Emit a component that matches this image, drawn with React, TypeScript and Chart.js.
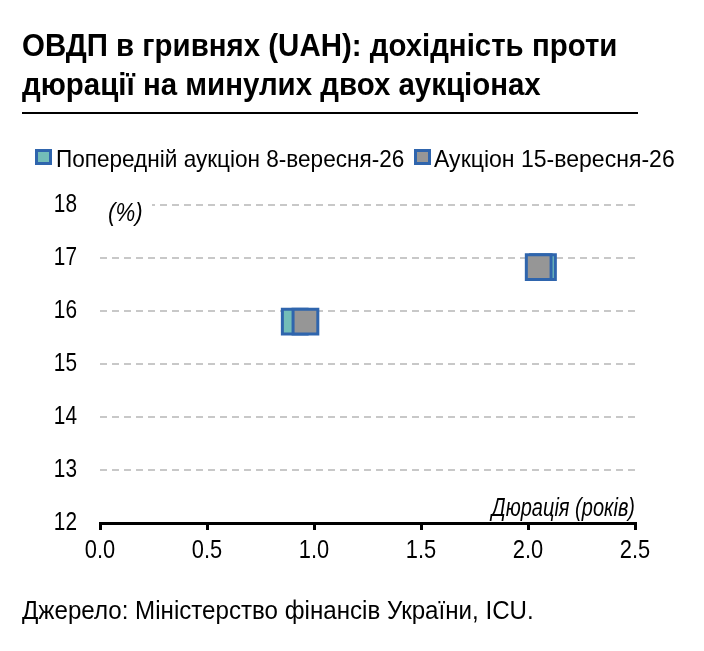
import React, { useEffect, useRef } from "react";
import { Chart, registerables } from "chart.js";

Chart.register(...registerables);

const titleLines = ["ОВДП в гривнях (UAH): дохідність проти", "дюрації на минулих двох аукціонах"];
const seriesNames = ["Попередній аукціон 8-вересня-26", "Аукціон 15-вересня-26"];
const prevDuration = [0.91, 2.07];
const prevYield = [15.8, 16.83];
const currDuration = [0.96, 2.05];
const currYield = [15.8, 16.83];
const yTicks = [12, 13, 14, 15, 16, 17, 18];
const xTicks = [0.0, 0.5, 1.0, 1.5, 2.0, 2.5];
const yUnitLabel = "(%)";
const xAxisLabel = "Дюрація (років)";
const sourceText = "Джерело: Міністерство фінансів України, ICU.";

const FONT = "'Liberation Sans', Arial, sans-serif";
const TEAL = "#73bdb8";
const GRAY = "#969696";
const BLUE = "#2f65ad";

function narrowText(ctx: CanvasRenderingContext2D, text: string, x: number, y: number, align: CanvasTextAlign, sx: number) {
  ctx.save();
  ctx.translate(x, y);
  ctx.scale(sx, 1);
  ctx.textAlign = align;
  ctx.fillText(text, 0, 0);
  ctx.restore();
}

const labelsPlugin = {
  id: "axisLabels",
  beforeDatasetsDraw(chart: any) {
    const { ctx, chartArea } = chart;
    const ys = chart.scales.y;
    const xs = chart.scales.x;
    ctx.save();
    const yTop = ys.getPixelForValue(yTicks[yTicks.length - 1]);
    ctx.fillStyle = "#ffffff";
    ctx.fillRect(chartArea.left - 2, yTop - 4, 54, 8);
    ctx.fillStyle = "#000000";
    ctx.font = `italic 25px ${FONT}`;
    ctx.textBaseline = "middle";
    narrowText(ctx, yUnitLabel, chartArea.left + 8, yTop + 9, "left", 0.89);
    ctx.textBaseline = "alphabetic";
    narrowText(ctx, xAxisLabel, chartArea.right, chartArea.bottom - 7, "right", 0.8);

    ctx.font = `26px ${FONT}`;
    ctx.textBaseline = "middle";
    ys.ticks.forEach((t: any) => {
      narrowText(ctx, String(t.value), chartArea.left - 23, ys.getPixelForValue(t.value), "right", 0.8);
    });
    xs.ticks.forEach((t: any) => {
      narrowText(ctx, Number(t.value).toFixed(1), xs.getPixelForValue(t.value), chartArea.bottom + 28, "center", 0.84);
    });
    ctx.restore();
  },
};

function ChartCanvas() {
  const ref = useRef<HTMLCanvasElement | null>(null);
  useEffect(() => {
    if (!ref.current) return;
    const chart = new Chart(ref.current, {
      type: "scatter",
      data: {
        datasets: [
          {
            label: seriesNames[0],
            data: prevDuration.map((x, i) => ({ x, y: prevYield[i] })),
            backgroundColor: TEAL,
            borderColor: BLUE,
            borderWidth: 3,
            pointStyle: "rect",
            pointRadius: 17.5,
            pointHoverRadius: 17.5,
            order: 1,
          },
          {
            label: seriesNames[1],
            data: currDuration.map((x, i) => ({ x, y: currYield[i] })),
            backgroundColor: GRAY,
            borderColor: BLUE,
            borderWidth: 3,
            pointStyle: "rect",
            pointRadius: 17.5,
            pointHoverRadius: 17.5,
            order: 0,
          },
        ],
      },
      options: {
        animation: false,
        responsive: false,
        devicePixelRatio: 1,
        layout: { padding: { top: 205, right: 69, left: 0, bottom: 0 } },
        plugins: { legend: { display: false }, tooltip: { enabled: false } },
        scales: {
          x: {
            type: "linear",
            min: xTicks[0],
            max: xTicks[xTicks.length - 1],
            afterBuildTicks: (s: any) => {
              s.ticks = xTicks.map((v) => ({ value: v }));
            },
            afterFit: (s: any) => {
              s.height = 128;
            },
            ticks: { display: false },
            grid: {
              drawOnChartArea: false,
              drawTicks: true,
              tickLength: 7,
              color: "#000",
              lineWidth: 3,
            },
            border: { display: true, color: "#000", width: 3 },
          },
          y: {
            type: "linear",
            min: yTicks[0],
            max: yTicks[yTicks.length - 1],
            afterBuildTicks: (s: any) => {
              s.ticks = yTicks.map((v) => ({ value: v }));
            },
            afterFit: (s: any) => {
              s.width = 100;
            },
            ticks: { display: false },
            grid: {
              drawTicks: false,
              color: (c: any) => (c.tick && c.tick.value === yTicks[0] ? "rgba(0,0,0,0)" : "#c8c8c8"),
              lineWidth: 2,
            },
            border: { display: false, dash: [7, 5] },
          },
        },
      },
      plugins: [labelsPlugin],
    });
    return () => chart.destroy();
  }, []);
  return <canvas ref={ref} width={704} height={651} style={{ position: "absolute", left: 0, top: 0, width: 704, height: 651 }} />;
}

function Narrow({ children, sx }: { children: React.ReactNode; sx: number }) {
  return (
    <span style={{ display: "inline-block", transform: `scaleX(${sx})`, transformOrigin: "left center", whiteSpace: "nowrap" }}>
      {children}
    </span>
  );
}

function LegendBox({ color, left }: { color: string; left: number }) {
  return (
    <span
      style={{
        position: "absolute",
        left,
        top: 149,
        width: 17,
        height: 16,
        boxSizing: "border-box",
        border: `3px solid ${BLUE}`,
        background: color,
      }}
    />
  );
}

export default function App() {
  return (
    <div style={{ position: "absolute", left: 0, top: 0, width: 704, height: 651, background: "#fff", overflow: "hidden", fontFamily: FONT, color: "#000" }}>
      <ChartCanvas />
      <div style={{ position: "absolute", left: 22, top: 26, fontWeight: "bold", fontSize: 32, lineHeight: "39px" }}>
        <div><Narrow sx={0.92}>{titleLines[0]}</Narrow></div>
        <div><Narrow sx={0.92}>{titleLines[1]}</Narrow></div>
      </div>
      <div style={{ position: "absolute", left: 22, top: 112, width: 616, height: 2, background: "#000" }} />
      <LegendBox color={TEAL} left={35} />
      <div style={{ position: "absolute", left: 56, top: 144, fontSize: 24, lineHeight: "30px" }}>
        <Narrow sx={0.94}>{seriesNames[0]}</Narrow>
      </div>
      <LegendBox color={GRAY} left={414} />
      <div style={{ position: "absolute", left: 434, top: 144, fontSize: 24, lineHeight: "30px" }}>
        <Narrow sx={0.96}>{seriesNames[1]}</Narrow>
      </div>
      <div style={{ position: "absolute", left: 22, top: 595, fontSize: 25, lineHeight: "30px" }}>
        <Narrow sx={0.965}>{sourceText}</Narrow>
      </div>
    </div>
  );
}
